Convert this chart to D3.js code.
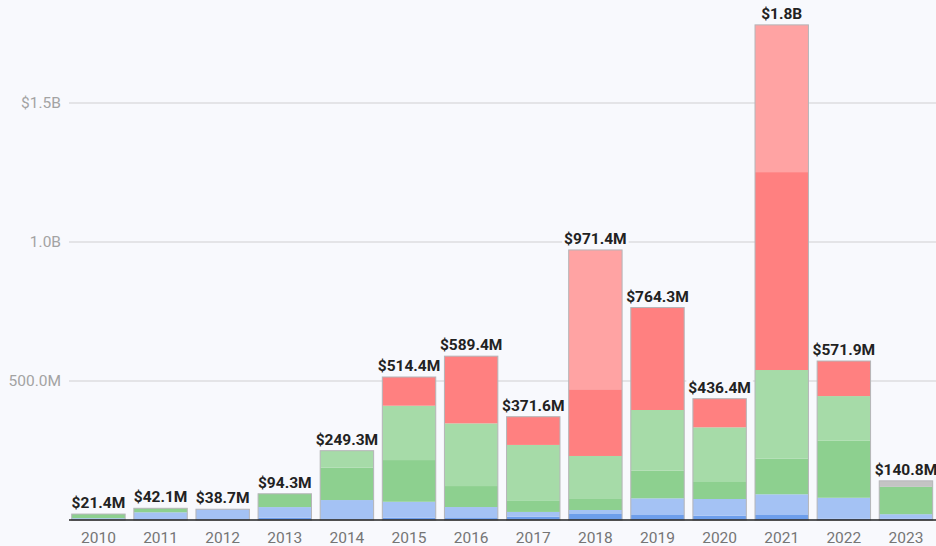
<!DOCTYPE html>
<html>
<head>
<meta charset="utf-8">
<script src="https://cdn.jsdelivr.net/npm/d3@7"></script>
<style>
  body { margin: 0; background: #f8f9fd; }
  svg { display: block; font-family: Roboto, "Noto Sans", sans-serif; }
</style>
</head>
<body>
<div class="chart"></div>
<script>
// values in millions of dollars
var years = ["2010","2011","2012","2013","2014","2015","2016","2017","2018","2019","2020","2021","2022","2023"];
var darkBlue   = [1.5, 2, 1.5, 8, 1, 8, 7, 12, 21.6, 18, 15.5, 18, 5, 5];
var lightBlue  = [5, 25.7, 37.2, 38.5, 70.8, 57.6, 39.6, 17, 14.4, 60, 60, 74.5, 75, 15.9];
var green      = [14.9, 14.4, 0, 47.8, 116.5, 150, 75.5, 39.6, 39.6, 99.4, 61.2, 128, 205, 98.3];
var lightGreen = [0, 0, 0, 0, 61, 195.5, 225.5, 201.4, 154.7, 218.3, 196.7, 319, 160.8, 0];
var red        = [0, 0, 0, 0, 0, 103.3, 241.8, 101.6, 240, 368.6, 103, 712, 126.1, 0];
var lightRed   = [0, 0, 0, 0, 0, 0, 0, 0, 501.1, 0, 0, 529.5, 0, 0];
var gray       = [0, 0, 0, 0, 0, 0, 0, 0, 0, 0, 0, 0, 0, 21.6];
var yTicks = [500, 1000, 1500];
var yTickLabels = ["500.0M", "1.0B", "$1.5B"];

var keys = ["darkBlue","lightBlue","green","lightGreen","red","lightRed","gray"];
var colors = ["#6d9eeb","#a4c2f4","#8dd08f","#a6dba8","#ff8080","#ffa3a3","#c4c4c4"];

var svgWidth = 936, svgHeight = 546;

var rows = years.map(function(y, i) {
  return {year: y, darkBlue: darkBlue[i], lightBlue: lightBlue[i], green: green[i],
    lightGreen: lightGreen[i], red: red[i], lightRed: lightRed[i], gray: gray[i]};
});
rows.forEach(function(d) {
  d.total = keys.reduce(function(s, k) { return s + d[k]; }, 0);
});

var svg = d3.select(".chart")
  .append("svg")
  .attr("width", svgWidth)
  .attr("height", svgHeight);

svg.append("rect").attr("width", svgWidth).attr("height", svgHeight).attr("fill", "#f8f9fd");

var x = d3.scaleBand()
  .domain(years)
  .range([68, 936.4])
  .paddingInner(0.14)
  .paddingOuter(0.06);

var y = d3.scaleLinear()
  .domain([0, 1500])
  .range([520, 103]);

// gridlines + y labels
var grid = svg.append("g");
grid.selectAll("line")
  .data(yTicks)
  .enter()
  .append("line")
  .attr("x1", 69)
  .attr("x2", svgWidth)
  .attr("y1", d => y(d))
  .attr("y2", d => y(d))
  .attr("stroke", "#cfcfd2")
  .attr("stroke-width", 1.2);
grid.selectAll("text")
  .data(yTicks)
  .enter()
  .append("text")
  .attr("x", 61)
  .attr("y", d => y(d))
  .attr("dy", "0.35em")
  .attr("text-anchor", "end")
  .style("font-size", "15.5px")
  .style("fill", "#a3a3a3")
  .text((d, i) => yTickLabels[i]);

// stacked bars
var series = d3.stack().keys(keys)(rows);
svg.append("g")
  .selectAll("g")
  .data(series)
  .enter()
  .append("g")
  .attr("fill", (d, i) => colors[i])
  .selectAll("rect")
  .data(d => d)
  .enter()
  .append("rect")
  .attr("x", d => x(d.data.year))
  .attr("width", x.bandwidth())
  .attr("y", d => y(d[1]))
  .attr("height", d => y(d[0]) - y(d[1]));

// outline around each bar
svg.append("g")
  .selectAll("rect")
  .data(rows)
  .enter()
  .append("rect")
  .attr("x", d => x(d.year))
  .attr("width", x.bandwidth())
  .attr("y", d => y(d.total))
  .attr("height", d => y(0) - y(d.total))
  .attr("fill", "none")
  .attr("stroke", "#b5b5b8")
  .attr("stroke-width", 1);

// baseline
svg.append("line")
  .attr("x1", 69).attr("x2", svgWidth)
  .attr("y1", y(0)).attr("y2", y(0))
  .attr("stroke", "#222")
  .attr("stroke-width", 1.3);

// x labels
svg.append("g")
  .selectAll("text")
  .data(years)
  .enter()
  .append("text")
  .attr("x", d => x(d) + x.bandwidth() / 2)
  .attr("y", 543)
  .attr("text-anchor", "middle")
  .style("font-size", "15.5px")
  .style("fill", "#757575")
  .text(d => d);

// total labels with a background box over the gridlines
function fmt(v) {
  if (v >= 1000) return "$" + (v / 1000).toFixed(1) + "B";
  return "$" + v.toFixed(1) + "M";
}
var labels = svg.append("g")
  .selectAll("g")
  .data(rows)
  .enter()
  .append("g");
labels.append("rect").attr("fill", "#f8f9fd");
labels.append("text")
  .attr("x", d => x(d.year) + x.bandwidth() / 2)
  .attr("y", d => y(d.total) - 6)
  .attr("text-anchor", "middle")
  .style("font-size", "15.5px")
  .style("font-weight", "bold")
  .style("fill", "#222")
  .text(d => fmt(d.total));
labels.each(function() {
  var g = d3.select(this);
  var b = g.select("text").node().getBBox();
  g.select("rect")
    .attr("x", b.x - 2).attr("y", b.y)
    .attr("width", b.width + 4).attr("height", b.height);
});
</script>
</body>
</html>
